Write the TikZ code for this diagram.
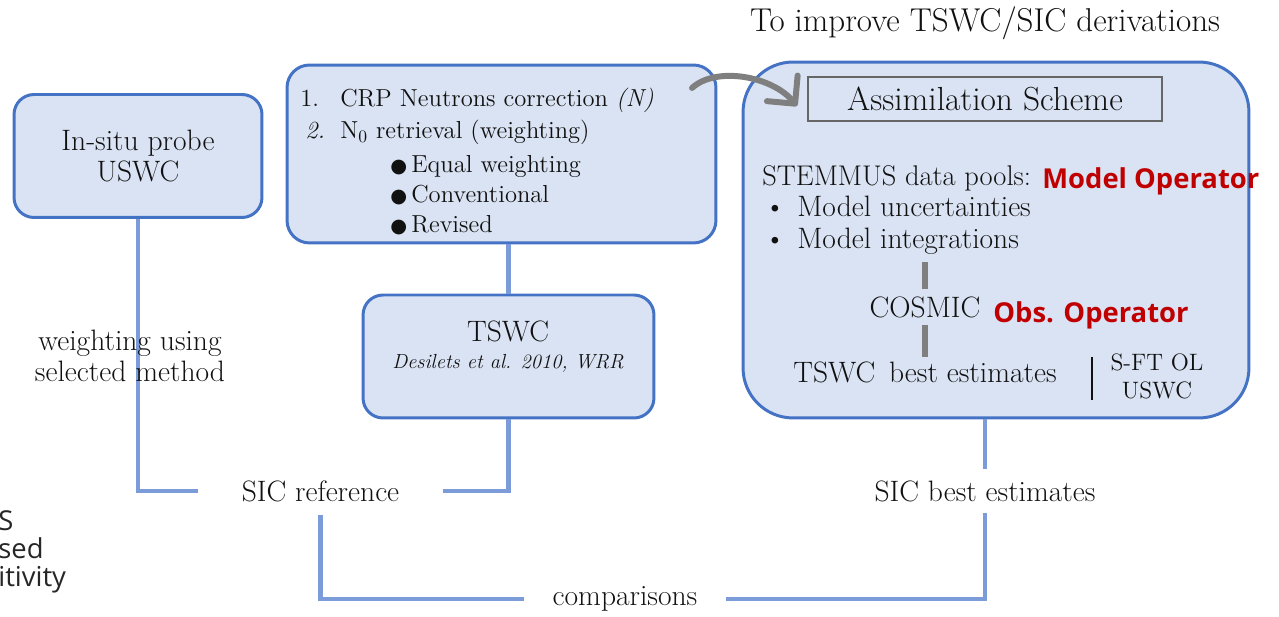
\documentclass[tikz,border=0pt]{standalone}
\usepackage{fontspec}
\usetikzlibrary{arrows.meta,positioning}
\newfontfamily\opensans{Open Sans}
\newfontfamily\dejavu{DejaVu Sans}
\definecolor{BoxFill}{HTML}{DAE3F3}
\definecolor{BoxLine}{HTML}{4472C4}
\definecolor{Link}{HTML}{7C9CD9}
\definecolor{Bar}{HTML}{7F7F7F}
\definecolor{OpRed}{HTML}{C00000}
\definecolor{Ink}{HTML}{111111}
\definecolor{Side}{HTML}{262626}
\tikzset{
  panel/.style={draw=BoxLine,fill=BoxFill,line width=1.7pt,rounded corners=#1,inner sep=0pt},
  txt/.style={font=\fontsize{16.8}{18}\selectfont,text=Ink,inner sep=0pt},
  boxtxt/.style={font=\fontsize{14}{16}\selectfont,text=Ink,inner sep=0pt,anchor=base west},
  optag/.style={font=\opensans\bfseries\fontsize{15.6}{17}\selectfont,text=OpRed,inner sep=0pt,anchor=base west},
  link/.style={Link,line width=2.8pt},
  greybar/.style={Bar,line width=3.4pt},
}

\begin{document}
\begin{tikzpicture}[x=0.02cm,y=-0.02cm]
  \useasboundingbox (0,0) rectangle (1279,617);
  % the four panels
  \node[panel=0.4cm,minimum width=4.96cm,minimum height=2.46cm,txt,align=center] (probe) at (138,156) {In-situ probe\\USWC};
  \node[panel=0.45cm,minimum width=8.58cm,minimum height=3.56cm] (crp) at (501.5,154) {};
  \node[panel=0.4cm,minimum width=5.82cm,minimum height=2.46cm] (tswc) at (508.5,356.5) {};
  \node[panel=1cm,minimum width=10.12cm,minimum height=7.12cm] (assim) at (996,240) {};

  \node[font=\fontsize{18.8}{21}\selectfont,text=Ink,anchor=base] (goal) at (985,32) {To improve TSWC/SIC derivations};

  % CRP panel
  \node[boxtxt] (num1) at (300,107) {1.};
  \node[boxtxt] (crpcorr) at (340,107) {CRP Neutrons correction \textit{(N)}};
  \node[boxtxt] (num2) at (305,139) {\textit{2.}};
  \node[boxtxt] (nzero) at (340,139) {N$_0$ retrieval (weighting)};
  \foreach \y/\t [count=\i] in {173/Equal weighting,203/Conventional,233/Revised}
    \node[boxtxt] (way\i) at (390,\y) {{\dejavu\fontsize{11}{12}\selectfont ●}\,\t};

  % TSWC panel
  \node[txt,anchor=base] (tswcname) at (508,342) {TSWC};
  \node[font=\itshape\fontsize{11.6}{13}\selectfont,text=Ink,inner sep=0pt,anchor=base] (desilets) at (508,369) {Desilets et al. 2010, WRR};

  % assimilation panel
  \node[draw=Bar!80!black,line width=0.8pt,minimum width=7.08cm,minimum height=0.88cm,inner sep=0pt,font=\fontsize{19}{21}\selectfont,text=Ink] (scheme) at (985,99) {Assimilation Scheme};
  \node[txt,anchor=base west,font=\fontsize{16.2}{18}\selectfont] (pools) at (762,186) {STEMMUS data pools:};
  \node[optag] (modelop) at (1042,189) {Model Operator};
  \node[txt,anchor=base west] (dot1) at (764,217) {\textbullet};
  \node[txt,anchor=base west] (uncert) at (797,217) {Model uncertainties};
  \node[txt,anchor=base west] (dot2) at (764,249) {\textbullet};
  \node[txt,anchor=base west] (integ) at (797,249) {Model integrations};
  \node[txt,inner ysep=4pt] (cosmic) at (925,307) {COSMIC};
  \node[optag] (obsop) at (993,323) {Obs. Operator};
  \node[txt,inner ysep=3pt,anchor=base] (tswcbest) at (925,383) {TSWC\, best estimates};
  \node[txt,align=center,font=\fontsize{13.5}{16}\selectfont] (sftol) at (1157,376) {S-FT OL\\USWC};
  \draw[greybar] (cosmic.north) -- ++(0,-27);
  \draw[greybar] (cosmic.south) -- (cosmic.south |- tswcbest.north);
  \draw[Ink,line width=0.9pt] (1092,357) -- (1092,400);

  % outputs below
  \node[txt,minimum width=4.9cm,minimum height=0.96cm] (sicref) at (320.5,491) {SIC reference};
  \node[txt,minimum height=0.88cm] (sicbest) at (985,491) {SIC best estimates};
  \node[txt,minimum width=4.04cm] (comp) at (625,599) {comparisons};

  \draw[link] (probe.south) |- (sicref.west);
  \draw[link] (crp.south -| tswc.north) -- (tswc.north);
  \draw[link] (tswc.south) |- (sicref.east);
  \draw[link] (assim.south -| sicbest.north) -- (sicbest.north);
  \draw[link] (sicref.south) |- (comp.west);
  \draw[link] (sicbest.south) |- (comp.east);

  \node[txt,align=center] (weighting) at (130,356) {weighting using\\selected method};

  % partly cut side note
  \foreach \y/\t [count=\i] in {531/S,559/sed,587/itivity}
    \node[font=\opensans\fontsize{15.6}{17}\selectfont,text=Side,inner sep=0pt,anchor=base west] (side\i) at (-2,\y) {\t};

  % hand-over arrow
  \coordinate (arrS) at (692,88);
  \coordinate (arrE) at (797,106);
  \draw[Bar,line width=3.4pt,line cap=round,-{Straight Barb[length=0.4cm,width=0.8cm,round]}]
    (arrS) .. controls (716,66) and (772,76) .. (arrE);
\end{tikzpicture}
\end{document}
